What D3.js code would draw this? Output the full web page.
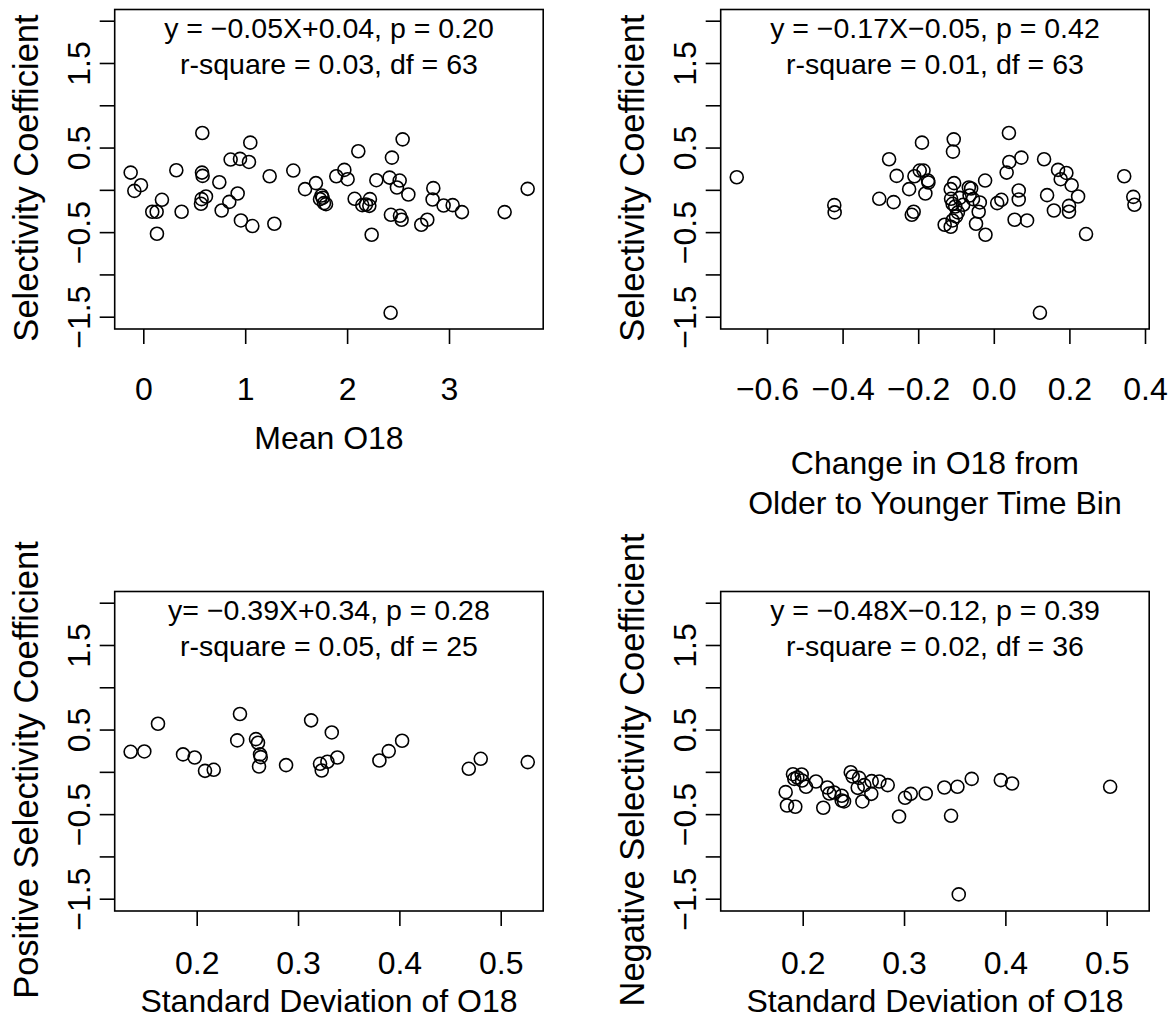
<!DOCTYPE html>
<html>
<head>
<meta charset="utf-8">
<script src="https://cdn.jsdelivr.net/npm/d3@7"></script>
<style>
  html, body { margin: 0; padding: 0; background: #fff; }
  svg text { font-family: "Liberation Sans", Arial, Helvetica, sans-serif; fill: #000; }
</style>
</head>
<body>
<svg id="chart" width="1176" height="1026"></svg>
<script>
// ---------------- DATA ----------------
// Panel 1: Mean O18 vs Selectivity Coefficient
const meanO18 = [-0.124,-0.088,-0.023,0.088,0.131,0.134,0.183,0.324,0.376,0.579,0.576,0.582,0.572,0.615,0.566,0.746,0.769,0.844,0.857,0.949,0.926,1.037,1.050,0.958,1.070,1.240,1.286,1.472,1.587,1.694,1.750,1.760,1.734,1.773,1.793,1.894,1.973,2.005,2.110,2.074,2.149,2.185,2.224,2.218,2.287,2.241,2.417,2.440,2.516,2.489,2.545,2.601,2.430,2.519,2.535,2.427,2.728,2.787,2.846,2.839,2.947,3.036,3.127,3.546,3.772];
const selMean = [0.204,-0.012,0.055,-0.259,-0.259,-0.519,-0.118,0.232,-0.259,0.672,0.204,0.165,-0.110,-0.079,-0.165,0.090,-0.244,-0.142,0.358,0.366,-0.043,0.330,0.558,-0.362,-0.428,0.161,-0.401,0.228,0.008,0.079,-0.067,-0.094,-0.110,-0.157,-0.169,0.161,0.236,0.126,0.456,-0.106,-0.181,-0.173,-0.110,-0.189,0.114,-0.531,0.145,0.381,0.110,0.028,0.597,-0.055,-0.295,-0.307,-0.354,-1.454,-0.413,-0.354,0.020,-0.114,-0.185,-0.181,-0.263,-0.263,0.012];

// Panel 2: Change in O18 vs Selectivity Coefficient
const changeO18 = [-0.680,-0.422,-0.421,-0.303,-0.277,-0.265,-0.257,-0.224,-0.217,-0.212,-0.210,-0.196,-0.190,-0.186,-0.174,-0.173,-0.181,-0.106,-0.108,-0.105,-0.114,-0.113,-0.109,-0.102,-0.095,-0.100,-0.109,-0.130,-0.114,-0.081,-0.066,-0.060,-0.064,-0.055,-0.037,-0.040,-0.047,-0.022,-0.023,0.009,0.020,0.034,0.041,0.040,0.073,0.066,0.066,0.055,0.088,0.122,0.133,0.141,0.159,0.170,0.177,0.192,0.206,0.199,0.199,0.223,0.244,0.345,0.369,0.372,-0.090];
const selChange = [0.149,-0.181,-0.267,-0.106,0.362,-0.145,0.165,0.008,-0.295,-0.259,0.161,0.228,0.558,0.228,0.110,0.086,-0.043,0.597,0.452,0.079,0.008,-0.106,-0.165,-0.197,-0.267,-0.314,-0.362,-0.413,-0.436,-0.177,0.028,0.016,-0.067,-0.110,-0.149,-0.259,-0.401,-0.531,0.110,-0.157,-0.118,0.204,0.330,0.672,0.381,-0.008,-0.114,-0.354,-0.362,-1.454,0.362,-0.063,-0.244,0.236,0.126,0.200,0.055,-0.189,-0.259,-0.079,-0.523,0.161,-0.083,-0.177,-0.095];

// Panel 3: SD of O18 vs Positive Selectivity Coefficient
const sdPos = [0.1348,0.1483,0.1618,0.1865,0.1980,0.2082,0.2168,0.2400,0.2427,0.2585,0.2605,0.2625,0.2632,0.2615,0.2882,0.3129,0.3217,0.3234,0.3290,0.3333,0.3388,0.3803,0.3895,0.4027,0.4685,0.4803,0.5267];
const selPos = [0.237,0.241,0.569,0.206,0.170,0.012,0.024,0.372,0.684,0.387,0.344,0.206,0.174,0.063,0.079,0.609,0.095,0.016,0.119,0.466,0.170,0.134,0.245,0.368,0.036,0.154,0.115];

// Panel 4: SD of O18 vs Negative Selectivity Coefficient
const sdNeg = [0.1832,0.1845,0.1927,0.1904,0.1917,0.1947,0.1990,0.1993,0.2033,0.2131,0.2203,0.2243,0.2263,0.2309,0.2385,0.2385,0.2408,0.2474,0.2493,0.2556,0.2543,0.2589,0.2608,0.2681,0.2677,0.2756,0.2839,0.2951,0.3010,0.3066,0.3214,0.3398,0.3464,0.3527,0.3540,0.3668,0.3955,0.4066,0.5034];
const selNeg = [-0.240,-0.398,-0.413,-0.028,-0.083,-0.067,-0.031,-0.102,-0.177,-0.114,-0.425,-0.185,-0.256,-0.244,-0.283,-0.339,-0.350,-0.004,-0.055,-0.071,-0.189,-0.350,-0.157,-0.110,-0.260,-0.114,-0.157,-0.528,-0.307,-0.260,-0.256,-0.185,-0.520,-0.177,-1.449,-0.083,-0.098,-0.138,-0.177];

// Tick values and labels
const yTickValues = [-1.5,-1.0,-0.5,0.0,0.5,1.0,1.5,2.0];
const yTickLabels = {"-1.5":"\u22121.5","-0.5":"\u22120.5","0.5":"0.5","1.5":"1.5"};
const xTicksMean = [0,1,2,3];
const xTicksChange = [-0.6,-0.4,-0.2,0.0,0.2,0.4];
const xTicksSD = [0.2,0.3,0.4,0.5];

// Texts
const eqTexts = [
  ["y = \u22120.05X+0.04, p = 0.20", "r-square = 0.03, df = 63"],
  ["y = \u22120.17X\u22120.05, p = 0.42", "r-square = 0.01, df = 63"],
  ["y= \u22120.39X+0.34, p = 0.28", "r-square = 0.05, df = 25"],
  ["y = \u22120.48X\u22120.12, p = 0.39", "r-square = 0.02, df = 36"]
];
const xTitles = [["Mean O18"], ["Change in O18 from", "Older to Younger Time Bin"], ["Standard Deviation of O18"], ["Standard Deviation of O18"]];
const yTitles = ["Selectivity Coefficient", "Selectivity Coefficient", "Positive Selectivity Coefficient", "Negative Selectivity Coefficient"];

// ---------------- LAYOUT ----------------
const svg = d3.select("#chart");
const boxW = 428.5, boxH = 319.5;
const panels = [
  {left:114.7, top:9.5,   xd:[0,3],      xr:[143.3,449],   xs:xTicksMean,   fmt:d3.format("d"),   X:meanO18,  Y:selMean,  xt:xTitles[0], xtBase:[120], tickBase:71, ytC:178},
  {left:720.7, top:9.5,   xd:[-0.6,0.4], xr:[767,1145],    xs:xTicksChange, fmt:v => d3.format(".1f")(v).replace("-", "\u2212"), X:changeO18, Y:selChange, xt:xTitles[1], xtBase:[145,185], tickBase:71, ytC:178},
  {left:114.7, top:591.5, xd:[0.2,0.5],  xr:[196.7,500.7], xs:xTicksSD,     fmt:d3.format(".1f"), X:sdPos,    Y:selPos,   xt:xTitles[2], xtBase:[101], tickBase:63, ytC:770},
  {left:720.7, top:591.5, xd:[0.2,0.5],  xr:[802.7,1106.7],xs:xTicksSD,     fmt:d3.format(".1f"), X:sdNeg,    Y:selNeg,   xt:xTitles[3], xtBase:[101], tickBase:63, ytC:770}
];

panels.forEach((p, i) => {
  const g = svg.append("g");
  const x = d3.scaleLinear().domain(p.xd).range(p.xr);
  const y = d3.scaleLinear().domain([-1.5, 2.0]).range([p.top + 307.2, p.top + 11.2]);
  const bottom = p.top + boxH;

  // box
  g.append("rect").attr("x", p.left).attr("y", p.top).attr("width", boxW).attr("height", boxH)
    .attr("fill", "none").attr("stroke", "#000").attr("stroke-width", 1.6);

  // y axis
  const ya = g.append("g").attr("transform", `translate(${p.left},0)`)
    .call(d3.axisLeft(y).tickValues(yTickValues).tickSize(15).tickSizeOuter(0)
      .tickFormat(d => yTickLabels[String(d)] || ""));
  ya.select(".domain").remove();
  ya.selectAll(".tick line").attr("stroke", "#000").attr("stroke-width", 1.6);
  ya.selectAll(".tick text")
    .attr("x", null).attr("dy", null)
    .attr("text-anchor", "middle")
    .attr("font-size", 32)
    .attr("transform", "translate(-25,0) rotate(-90)");

  // x axis
  const xa = g.append("g").attr("transform", `translate(0,${bottom})`)
    .call(d3.axisBottom(x).tickValues(p.xs).tickSize(15).tickSizeOuter(0).tickFormat(p.fmt));
  xa.select(".domain").remove();
  xa.selectAll(".tick line").attr("stroke", "#000").attr("stroke-width", 1.6);
  xa.selectAll(".tick text").attr("y", p.tickBase).attr("dy", null).attr("font-size", 32);

  // points
  g.append("g").selectAll("circle").data(p.X.map((v, k) => [v, p.Y[k]])).join("circle")
    .attr("cx", d => x(d[0])).attr("cy", d => y(d[1])).attr("r", 6.5)
    .attr("fill", "none").attr("stroke", "#000").attr("stroke-width", 1.6);

  // equation text
  const cx = p.left + boxW / 2;
  eqTexts[i].forEach((t, k) => {
    g.append("text").attr("x", cx).attr("y", p.top + 28 + k * 36)
      .attr("text-anchor", "middle").attr("font-size", 28.5).text(t);
  });

  // x title
  p.xt.forEach((t, k) => {
    g.append("text").attr("x", cx).attr("y", bottom + p.xtBase[k])
      .attr("text-anchor", "middle").attr("font-size", 32).text(t);
  });

  // y title
  g.append("text")
    .attr("transform", `translate(${p.left - 77},${p.ytC}) rotate(-90)`)
    .attr("text-anchor", "middle").attr("font-size", 34.5).text(yTitles[i]);
});
</script>
</body>
</html>
